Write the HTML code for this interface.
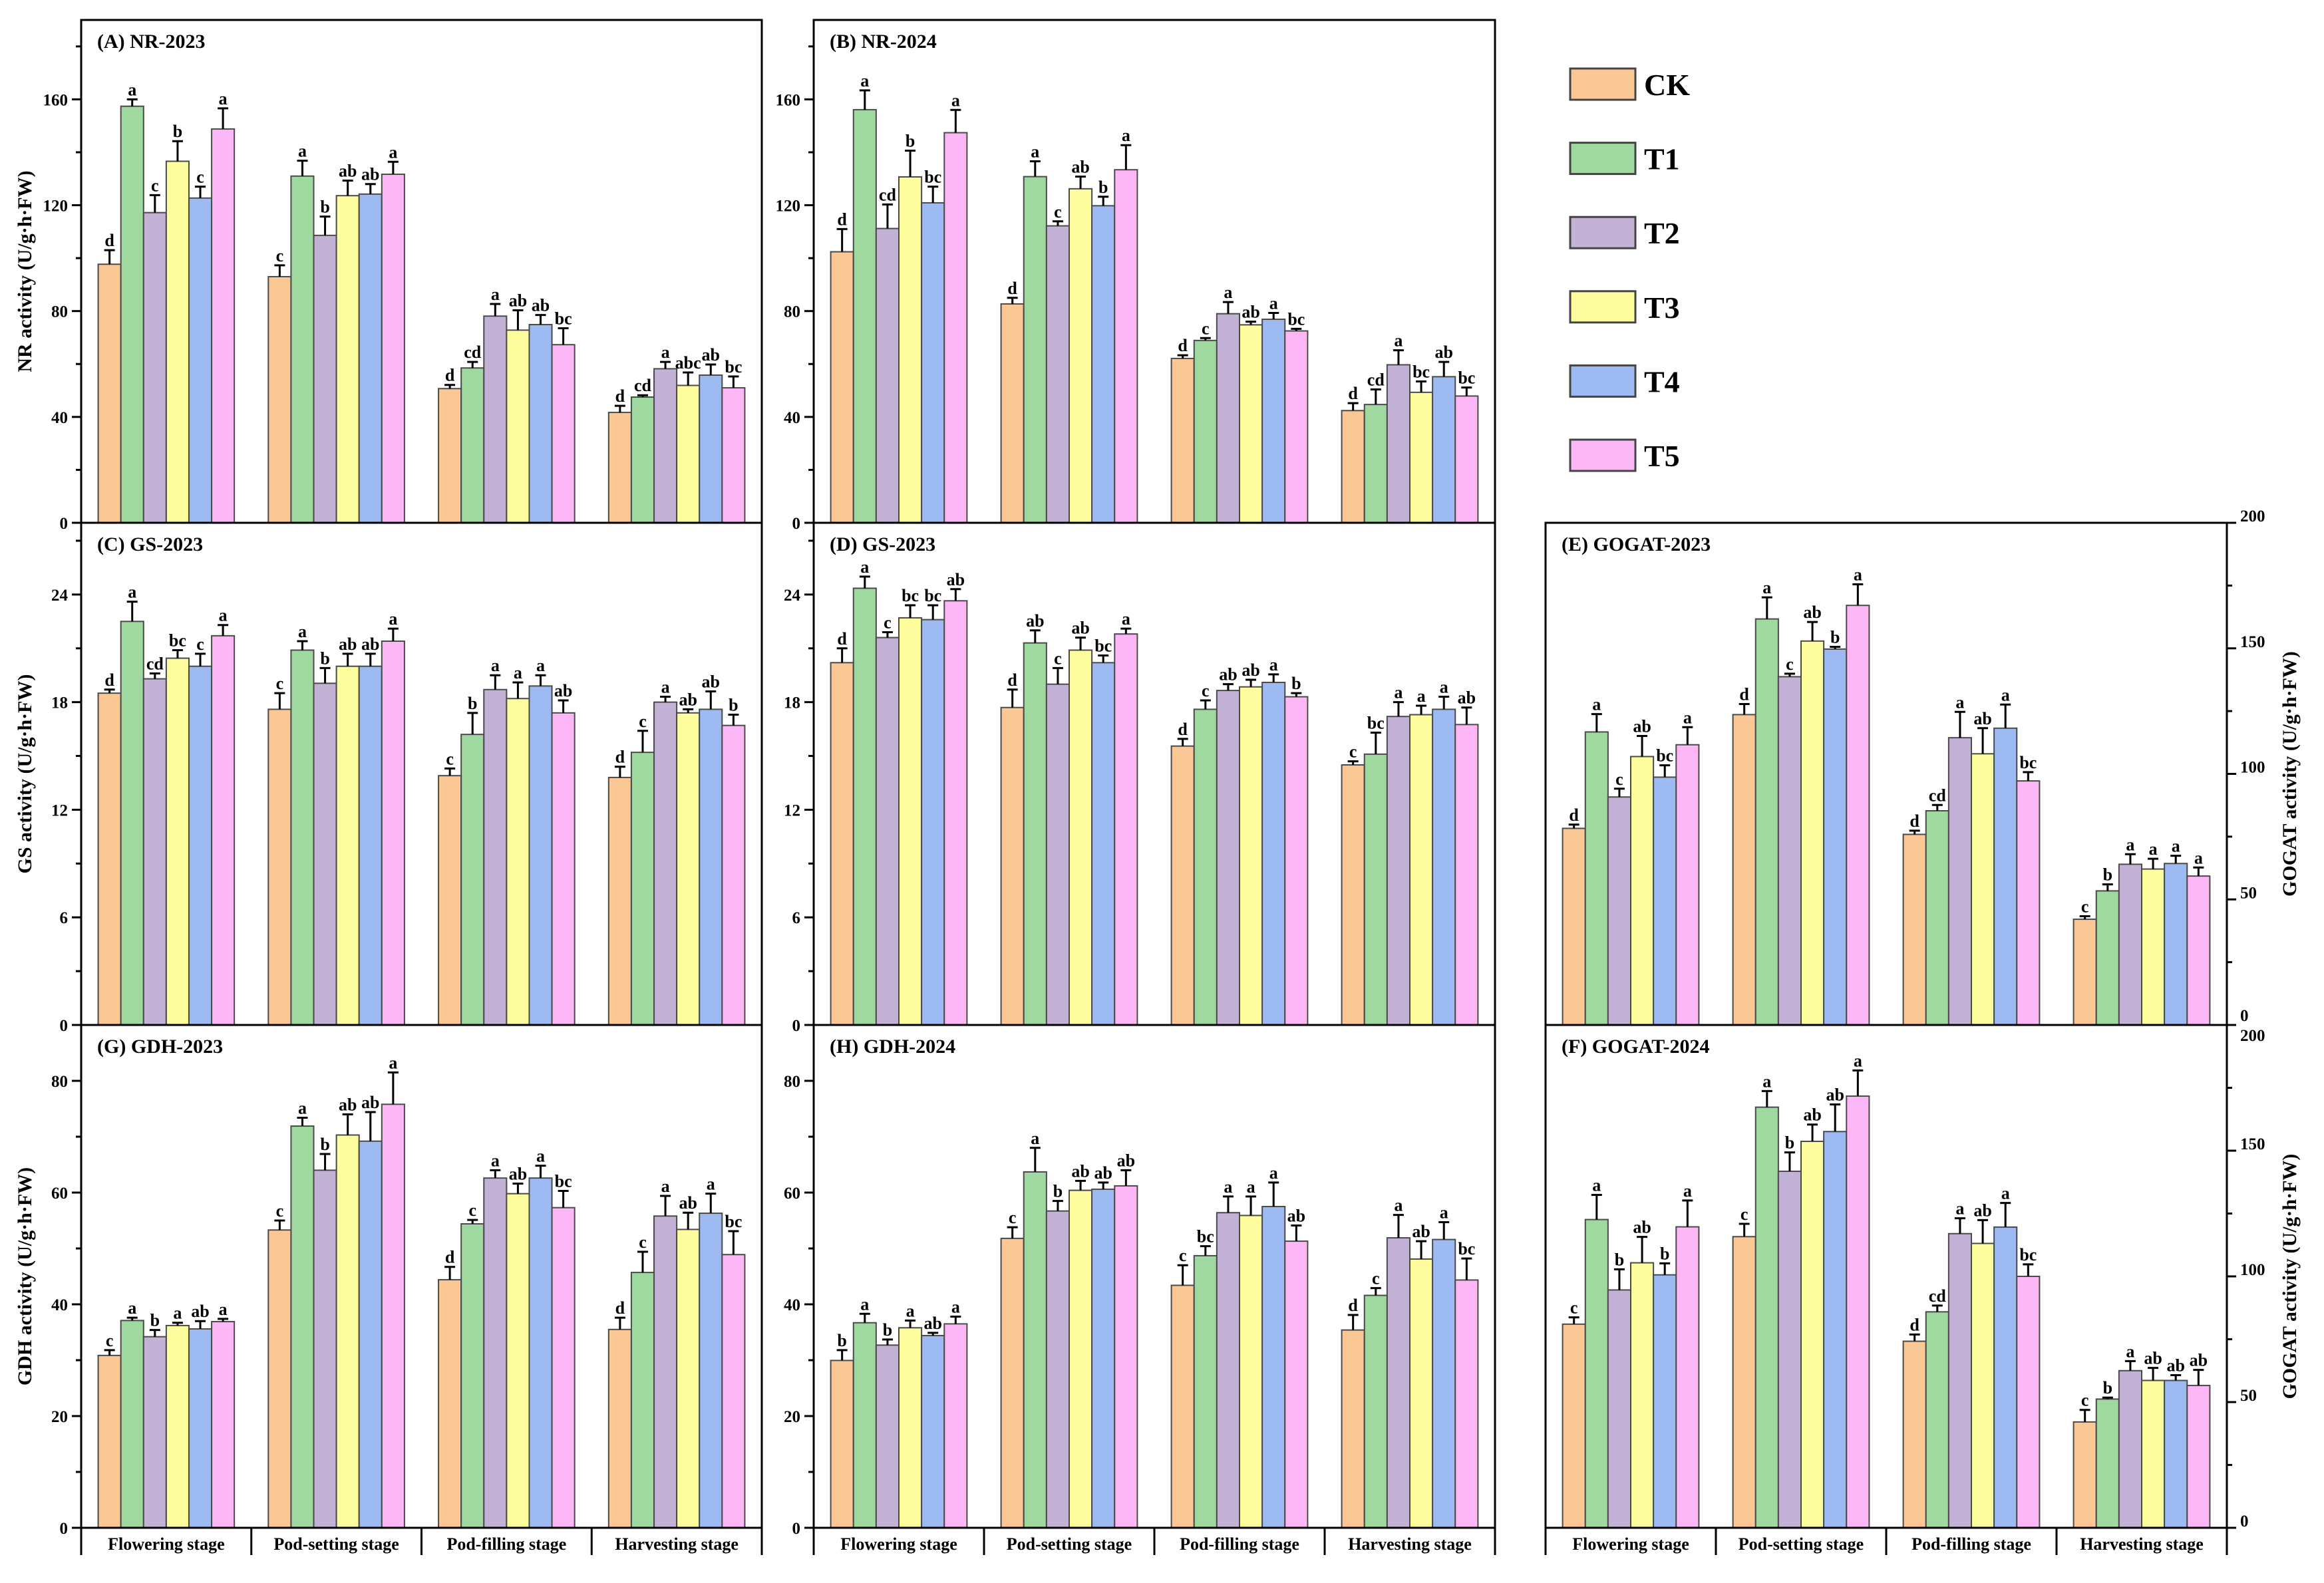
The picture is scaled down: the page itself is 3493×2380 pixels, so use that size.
<!DOCTYPE html>
<html><head><meta charset="utf-8"><title>Enzyme activity</title>
<style>
html,body{margin:0;padding:0;background:#fff;}
svg{display:block;font-family:"Liberation Serif",serif;font-weight:bold;}
</style></head>
<body>
<svg id="chart" width="3493" height="2380" viewBox="0 0 3493 2380" xmlns="http://www.w3.org/2000/svg"></svg>
<script>
const stages = ["Flowering stage","Pod-setting stage","Pod-filling stage","Harvesting stage"];
const treatments = ["CK","T1","T2","T3","T4","T5"];
const colors = ["#FBC794","#A0D99F","#C3B1D6","#FEFD9E","#9DBBF2","#FDB7F6"];

const nrTicks = [0,40,80,120,160];
const gsTicks = [0,6,12,18,24];
const gdhTicks = [0,20,40,60,80];
const gogatTicks = [0,50,100,150,200];

const nr2023Mean = [[97.7,157.4,117.2,136.6,122.7,148.8],[93.0,131.0,108.6,123.6,124.2,131.7],[50.7,58.5,78.1,72.8,74.9,67.3],[41.7,47.5,58.2,51.9,55.8,51.0]];
const nr2023Err = [[5.3,2.6,6.6,7.6,4.3,7.8],[4.3,5.8,7.1,5.7,3.8,4.7],[1.4,2.3,4.6,7.5,3.6,6.2],[2.5,0.7,2.6,4.9,4.0,4.3]];
const nr2023Sig = [["d","a","c","b","c","a"],["c","a","b","ab","ab","a"],["d","cd","a","ab","ab","bc"],["d","cd","a","abc","ab","bc"]];

const nr2024Mean = [[102.4,156.1,111.2,130.7,120.9,147.4],[82.7,130.8,112.2,126.2,119.8,133.4],[62.1,68.9,79.0,74.8,76.9,72.5],[42.4,44.7,59.7,49.3,55.2,47.9]];
const nr2024Err = [[8.6,7.3,9.1,9.9,6.1,8.6],[2.3,5.8,1.7,4.6,3.4,9.3],[1.2,0.9,4.4,1.2,2.4,0.8],[2.8,5.7,5.5,4.1,5.6,3.2]];
const nr2024Sig = [["d","a","cd","b","bc","a"],["d","a","c","ab","b","a"],["d","c","a","ab","a","bc"],["d","cd","a","bc","ab","bc"]];

const gsAMean = [[18.5,22.5,19.3,20.45,20.0,21.7],[17.6,20.9,19.05,20.0,20.0,21.4],[13.9,16.2,18.7,18.2,18.9,17.4],[13.8,15.2,18.0,17.4,17.6,16.7]];
const gsAErr = [[0.2,1.1,0.3,0.45,0.7,0.6],[0.9,0.5,0.85,0.7,0.7,0.7],[0.4,1.2,0.8,0.9,0.6,0.7],[0.6,1.2,0.3,0.2,1.0,0.6]];
const gsASig = [["d","a","cd","bc","c","a"],["c","a","b","ab","ab","a"],["c","b","a","a","a","ab"],["d","c","a","ab","ab","b"]];

const gsBMean = [[20.2,24.35,21.6,22.7,22.6,23.65],[17.7,21.3,19.0,20.9,20.2,21.8],[15.55,17.6,18.65,18.85,19.1,18.3],[14.5,15.1,17.2,17.3,17.6,16.75]];
const gsBErr = [[0.8,0.65,0.3,0.7,0.8,0.65],[1.0,0.7,0.9,0.7,0.4,0.3],[0.4,0.5,0.35,0.4,0.45,0.2],[0.2,1.2,0.8,0.5,0.7,0.95]];
const gsBSig = [["d","a","c","bc","bc","ab"],["d","ab","c","ab","bc","a"],["d","c","ab","ab","a","b"],["c","bc","a","a","a","ab"]];

const gdh2023Mean = [[30.85,37.1,34.2,36.2,35.6,36.9],[53.3,71.9,64.0,70.3,69.2,75.8],[44.4,54.4,62.6,59.8,62.6,57.3],[35.5,45.7,55.8,53.4,56.3,48.9]];
const gdh2023Err = [[0.95,0.5,1.2,0.5,1.4,0.5],[1.7,1.5,2.9,3.7,5.2,5.7],[2.3,0.7,1.4,1.8,2.2,3.0],[2.1,3.7,3.6,3.0,3.5,4.2]];
const gdh2023Sig = [["c","a","b","a","ab","a"],["c","a","b","ab","ab","a"],["d","c","a","ab","a","bc"],["d","c","a","ab","a","bc"]];

const gdh2024Mean = [[29.95,36.7,32.7,35.8,34.4,36.5],[51.8,63.7,56.7,60.4,60.6,61.2],[43.4,48.7,56.4,55.9,57.5,51.3],[35.4,41.6,51.9,48.1,51.6,44.35]];
const gdh2024Err = [[1.85,1.6,1.0,1.3,0.5,1.3],[2.0,4.3,1.8,1.7,1.2,2.8],[3.6,1.7,2.9,3.4,4.3,2.8],[2.7,1.3,4.1,3.2,3.1,3.85]];
const gdh2024Sig = [["b","a","b","a","ab","a"],["c","a","b","ab","ab","ab"],["c","bc","a","a","a","ab"],["d","c","a","ab","a","bc"]];

const gogat2023Mean = [[78.3,116.7,90.8,106.9,98.7,111.6],[123.6,161.7,138.7,152.9,149.7,167.1],[75.9,85.3,114.4,108.0,118.2,97.2],[42.1,53.4,64.0,62.1,64.3,59.3]];
const gogat2023Err = [[1.5,7.1,3.3,8.2,4.7,7.0],[4.2,8.6,1.2,7.6,0.9,8.4],[1.5,2.3,10.3,10.2,9.4,3.5],[1.2,2.6,4.0,4.1,3.1,3.4]];
const gogat2023Sig = [["d","a","c","ab","bc","a"],["d","a","c","ab","b","a"],["d","cd","a","ab","a","bc"],["c","b","a","a","a","a"]];

const gogat2024Mean = [[81.0,122.6,94.6,105.4,100.6,119.7],[115.8,167.3,141.8,153.7,157.6,171.7],[74.2,85.9,117.0,113.1,119.6,100.0],[42.1,51.2,62.5,58.6,58.6,56.6]];
const gogat2024Err = [[2.7,9.8,8.2,10.3,4.6,10.5],[5.1,6.4,7.5,6.7,10.8,10.2],[2.7,2.5,6.1,9.3,9.6,4.8],[4.8,0.6,3.8,5.0,2.1,6.2]];
const gogat2024Sig = [["c","a","b","ab","b","a"],["c","a","b","ab","ab","a"],["d","cd","a","ab","a","bc"],["c","b","a","ab","ab","ab"]];

const NS = "http://www.w3.org/2000/svg";
const svg = document.getElementById("chart");
function mk(tag, attrs, parent){
  const e = document.createElementNS(NS, tag);
  for (const k in attrs) e.setAttribute(k, attrs[k]);
  (parent||svg).appendChild(e);
  return e;
}

const COLS = [[122,1145],[1223,2247],[2323,3347]];
const ROWS = [[30,786],[786,1541],[1541,2297]];

function drawPanel(opt, means, errs, sigs){
  const [x0,x1] = COLS[opt.col];
  const [y0,y1] = ROWS[opt.row];
  const g = mk("g", {});
  
  
  const yScale = v => y1 - (v/opt.max)*(y1-y0);
  const gw = (x1-x0)/stages.length;
  const bw = gw*0.8/treatments.length;
  for (let s=0;s<stages.length;s++){
    for (let t=0;t<treatments.length;t++){
      const m = means[s][t], e = errs[s][t];
      const bx = x0 + s*gw + gw*0.1 + t*bw;
      const by = yScale(m);
      const r = mk("rect", {x:bx, y:by, width:bw, height:y1-by, fill:colors[t], stroke:"#4a4a4a", "stroke-width":2}, g);
      
      
      const cx = bx + bw/2, ey = yScale(m+e);
      const eb = mk("path", {d:`M${cx},${by} V${ey} M${cx-8},${ey} H${cx+8}`, stroke:"#000", "stroke-width":3, fill:"none"}, g);
      
      
      const lt = mk("text", {x:cx, y:ey-6, "text-anchor":"middle", "font-size":26}, g);
      lt.textContent = sigs[s][t];
      
      
    }
  }
  const fr = mk("rect", {x:x0, y:y0, width:x1-x0, height:y1-y0, fill:"none", stroke:"#000", "stroke-width":3}, g);
  
  
  const ax = opt.right ? x1 : x0;
  const dir = opt.right ? 1 : -1;
  const step = opt.ticks[1]-opt.ticks[0];
  for (let v=0; v<=opt.max+1e-9; v+=step/2){
    const major = Math.abs((v/step)-Math.round(v/step))<1e-6;
    const yy = yScale(v);
    mk("line", {x1:ax, x2:ax+dir*(major?14:8), y1:yy, y2:yy, stroke:"#000", "stroke-width":3}, g);
  }
  opt.ticks.forEach((v,i)=>{
    const yy = yScale(v);
    let ty = yy + 9;
    if (opt.right){
      ty = yy - 2;
      if (opt.row===2 && i===opt.ticks.length-1) ty = yy + 24;
      if (opt.row===1 && i===0) ty = yy - 6;
    }
    const tl = mk("text", {x:ax+dir*20, y:ty, "text-anchor":opt.right?"start":"end", "font-size":25}, g);
    tl.textContent = v;
    
    
  });
  const tt = mk("text", {x:x0+24, y:y0+42, "font-size":30}, g);
  tt.textContent = opt.title;
  
  
  if (opt.ytitle){
    const cy = (y0+y1)/2;
    const tx = opt.right ? 3444 : 40;
    const yt = mk("text", {x:tx, y:cy, "text-anchor":"middle", "font-size":30, transform:`rotate(-90 ${tx} ${cy})`, "dominant-baseline":"middle"}, g);
    yt.textContent = opt.ytitle;
    
    
  }
  if (opt.row===2){
    for (let s=0;s<=stages.length;s++){
      const xx = x0 + s*gw;
      mk("line", {x1:xx, x2:xx, y1:y1, y2:2338, stroke:"#000", "stroke-width":3}, g);
    }
    stages.forEach((st,s)=>{
      const cl = mk("text", {x:x0+s*gw+gw/2, y:2330, "text-anchor":"middle", "font-size":26}, g);
      cl.textContent = st;
      
      
    });
  }
}

drawPanel({name:"panel-a-nr-2023", col:0,row:0,max:190,ticks:nrTicks,title:"(A) NR-2023",ytitle:"NR activity (U/g·h·FW)"}, nr2023Mean, nr2023Err, nr2023Sig);
drawPanel({name:"panel-b-nr-2024", col:1,row:0,max:190,ticks:nrTicks,title:"(B) NR-2024"}, nr2024Mean, nr2024Err, nr2024Sig);
drawPanel({name:"panel-c-gs-2023", col:0,row:1,max:28,ticks:gsTicks,title:"(C) GS-2023",ytitle:"GS activity (U/g·h·FW)"}, gsAMean, gsAErr, gsASig);
drawPanel({name:"panel-d-gs-2023", col:1,row:1,max:28,ticks:gsTicks,title:"(D) GS-2023"}, gsBMean, gsBErr, gsBSig);
drawPanel({name:"panel-g-gdh-2023", col:0,row:2,max:90,ticks:gdhTicks,title:"(G) GDH-2023",ytitle:"GDH activity (U/g·h·FW)"}, gdh2023Mean, gdh2023Err, gdh2023Sig);
drawPanel({name:"panel-h-gdh-2024", col:1,row:2,max:90,ticks:gdhTicks,title:"(H) GDH-2024"}, gdh2024Mean, gdh2024Err, gdh2024Sig);
drawPanel({name:"panel-e-gogat-2023", col:2,row:1,max:200,ticks:gogatTicks,right:true,title:"(E) GOGAT-2023",ytitle:"GOGAT activity (U/g·h·FW)"}, gogat2023Mean, gogat2023Err, gogat2023Sig);
drawPanel({name:"panel-f-gogat-2024", col:2,row:2,max:200,ticks:gogatTicks,right:true,title:"(F) GOGAT-2024",ytitle:"GOGAT activity (U/g·h·FW)"}, gogat2024Mean, gogat2024Err, gogat2024Sig);

const lg = mk("g", {});


treatments.forEach((t,i)=>{
  const y = 103 + i*111.6;
  const r = mk("rect", {x:2360, y:y, width:98, height:47, fill:colors[i], stroke:"#444", "stroke-width":3}, lg);
  
  
  const tx = mk("text", {x:2471, y:y+40, "font-size":46}, lg);
  tx.textContent = t;
  
  
});
</script>
</body></html>
